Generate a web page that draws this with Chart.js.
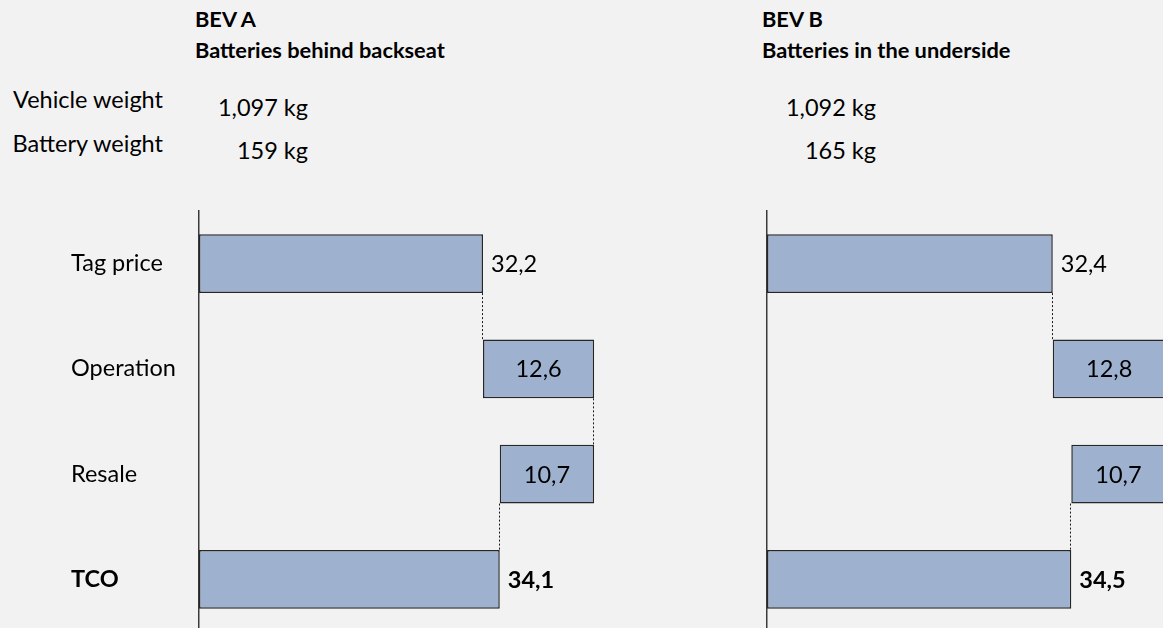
<!DOCTYPE html>
<html>
<head>
<meta charset="utf-8">
<script src="https://cdn.jsdelivr.net/npm/chart.js@4/dist/chart.umd.min.js"></script>
<style>
  html, body { margin: 0; padding: 0; background: #f2f2f2; }
  body { width: 1163px; height: 628px; overflow: hidden; position: relative; font-family: Lato, sans-serif; color: #000; }
  .t { position: absolute; white-space: nowrap; line-height: 1; }
  .h { font-weight: bold; font-size: 21.8px; }
  .w { font-size: 23.5px; }
  .r { text-align: right; width: 300px; }
  .panel { position: absolute; top: 0; width: 640px; height: 680px; }
</style>
</head>
<body>
<div id="texts"></div>
<div class="panel" style="left:0"><canvas id="chartA" width="640" height="680"></canvas></div>
<div class="panel" style="left:568px"><canvas id="chartB" width="640" height="680"></canvas></div>
<script>
// Cost components (thousand units), order: tag price, operation, resale, TCO
const categories = ['Tag price', 'Operation', 'Resale', 'TCO'];
const bevA = [32.2, 12.6, 10.7, 34.1];
const bevB = [32.4, 12.8, 10.7, 34.5];

const titlesA = ['BEV A', 'Batteries behind backseat'];
const titlesB = ['BEV B', 'Batteries in the underside'];
const weightLabels = ['Vehicle weight', 'Battery weight'];
const weightsA = ['1,097 kg', '159 kg'];
const weightsB = ['1,092 kg', '165 kg'];

const FONT = 'Lato';
const LABEL_SIZE = 23.5;

// ---- header and weight text ----
const box = document.getElementById('texts');
function addText(txt, cls, left, baseline, size, rightAlign) {
  const d = document.createElement('div');
  d.className = 't ' + cls + (rightAlign ? ' r' : '');
  d.textContent = txt;
  d.style.top = (baseline - 0.887 * size) + 'px';
  d.style.left = (rightAlign ? left - 300 : left) + 'px';
  box.appendChild(d);
}
addText(titlesA[0], 'h', 195, 27, 21.8);
addText(titlesA[1], 'h', 195, 58, 21.8);
addText(titlesB[0], 'h', 762, 27, 21.8);
addText(titlesB[1], 'h', 762, 58, 21.8);
addText(weightLabels[0], 'w', 163, 109, 23.5, true);
addText(weightLabels[1], 'w', 163, 153, 23.5, true);
addText(weightsA[0], 'w', 308, 117, 23.5, true);
addText(weightsA[1], 'w', 308, 160, 23.5, true);
addText(weightsB[0], 'w', 876, 117, 23.5, true);
addText(weightsB[1], 'w', 876, 160, 23.5, true);

// ---- waterfall helpers ----
function waterfall(v) {
  const [tag, op, res, tco] = v;
  return [[0, tag], [tag, tag + op], [tag + op - res, tag + op], [0, tco]];
}
function runningTotals(v) {
  const [tag, op, res] = v;
  return [tag, tag + op, tag + op - res];
}
const fmt = (n) => n.toFixed(1).replace('.', ',');

// dashed connectors between consecutive bars
const connectors = {
  id: 'connectors',
  afterDatasetsDraw(chart, args, opts) {
    const ctx = chart.ctx;
    const bars = chart.getDatasetMeta(0).data;
    const xs = chart.scales.x;
    const totals = runningTotals(opts.values);
    ctx.save();
    ctx.strokeStyle = '#1a1a1a';
    ctx.lineWidth = 1;
    ctx.setLineDash([2, 2]);
    totals.forEach((t, i) => {
      const a = bars[i], b = bars[i + 1];
      const x = Math.round(xs.getPixelForValue(t)) - 0.5;
      ctx.beginPath();
      ctx.moveTo(x, a.y + a.height / 2);
      ctx.lineTo(x, b.y - b.height / 2);
      ctx.stroke();
    });
    ctx.restore();
  }
};

// value labels: outside for totals, centred inside for steps
const valueLabels = {
  id: 'valueLabels',
  afterDatasetsDraw(chart, args, opts) {
    const ctx = chart.ctx;
    const bars = chart.getDatasetMeta(0).data;
    ctx.save();
    ctx.fillStyle = '#000';
    ctx.textBaseline = 'middle';
    bars.forEach((bar, i) => {
      const bold = i === 3;
      ctx.font = (bold ? 'bold ' : '') + LABEL_SIZE + 'px ' + FONT;
      const text = fmt(opts.values[i]);
      if (i === 1 || i === 2) {
        ctx.textAlign = 'center';
        ctx.fillText(text, (bar.x + bar.base) / 2, bar.y + 1);
      } else {
        ctx.textAlign = 'left';
        ctx.fillText(text, Math.max(bar.x, bar.base) + 8, bar.y + 1);
      }
    });
    ctx.restore();
  }
};

function makeChart(id, values, showLabels) {
  return new Chart(document.getElementById(id), {
    type: 'bar',
    data: {
      labels: categories,
      datasets: [{
        data: waterfall(values),
        backgroundColor: '#9eb1cf',
        borderColor: '#262626',
        borderWidth: 1.5,
        borderSkipped: false,
        barPercentage: 0.56,
        categoryPercentage: 1
      }]
    },
    options: {
      indexAxis: 'y',
      responsive: false,
      animation: false,
      events: [],
      layout: { padding: { left: 71, top: 211, right: 0, bottom: 48 } },
      plugins: {
        legend: { display: false },
        tooltip: { enabled: false },
        connectors: { values },
        valueLabels: { values }
      },
      scales: {
        x: { display: false, min: 0, max: 50 },
        y: {
          grid: { display: false },
          border: { display: true, color: '#3a3a3a', width: 1.5 },
          ticks: {
            display: showLabels,
            crossAlign: 'far',
            color: '#000',
            font: (c) => ({ family: FONT, size: LABEL_SIZE, weight: c.index === 3 ? 'bold' : 'normal' })
          },
          afterFit: (s) => { s.width = 128; }
        }
      }
    },
    plugins: [connectors, valueLabels]
  });
}

makeChart('chartA', bevA, true);
makeChart('chartB', bevB, false);
</script>
</body>
</html>
